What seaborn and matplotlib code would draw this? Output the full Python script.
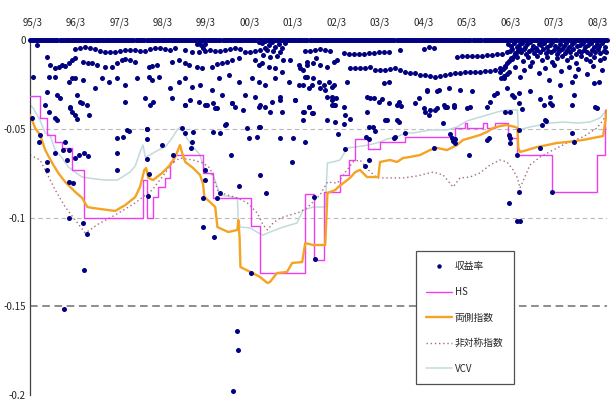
import numpy as np
import pandas as pd
import matplotlib
matplotlib.use("Agg")
import matplotlib.pyplot as plt
from matplotlib.lines import Line2D
import seaborn as sns

# x = decimal year, y = daily return / VaR estimate
tick_dates = [1995.17, 1996.17, 1997.17, 1998.17, 1999.17, 2000.17, 2001.17,
              2002.17, 2003.17, 2004.17, 2005.17, 2006.17, 2007.17, 2008.17]
tick_labels = ["95/3", "96/3", "97/3", "98/3", "99/3", "00/3", "01/3",
               "02/3", "03/3", "04/3", "05/3", "06/3", "07/3", "08/3"]
y_ticks = [0, -0.05, -0.1, -0.15, -0.2]
y_tick_labels = ["0", "-0.05", "-0.1", "-0.15", "-0.2"]

# days plotted on the zero line
zero_dates = [
    1995.13, 1995.21, 1995.30, 1995.38, 1995.46, 1995.55, 1995.63, 1995.71, 1995.80, 1995.88, 1995.96,
    1996.05, 1996.13, 1996.21, 1996.30, 1996.38, 1996.46, 1996.55, 1996.63, 1996.71, 1996.80, 1996.88, 1996.96,
    1997.05, 1997.13, 1997.21, 1997.30, 1997.38, 1997.46, 1997.55, 1997.63, 1997.71, 1997.80, 1997.88, 1997.96,
    1998.05, 1998.13, 1998.21, 1998.30, 1998.38, 1998.46, 1998.55, 1998.63, 1998.71, 1998.80, 1998.88, 1998.96,
    1999.05, 1999.13, 1999.21, 1999.30, 1999.38, 1999.46, 1999.55, 1999.63, 1999.71, 1999.80, 1999.88, 1999.96,
    2000.05, 2000.13, 2000.21, 2000.30, 2000.38, 2000.46, 2000.55, 2000.63, 2000.71, 2000.80, 2000.88, 2000.96,
    2001.05, 2001.13, 2001.21, 2001.30, 2001.38, 2001.46, 2001.55, 2001.63, 2001.71, 2001.80, 2001.88, 2001.96,
    2002.05, 2002.13, 2002.21, 2002.30, 2002.38, 2002.46, 2002.55, 2002.63, 2002.71, 2002.80, 2002.88, 2002.96,
    2003.05, 2003.13, 2003.21, 2003.30, 2003.38, 2003.46, 2003.55, 2003.63, 2003.71, 2003.80, 2003.88, 2003.96,
    2004.05, 2004.13, 2004.21, 2004.30, 2004.38, 2004.46, 2004.55, 2004.63, 2004.71, 2004.80, 2004.88, 2004.96,
    2005.05, 2005.13, 2005.21, 2005.30, 2005.38, 2005.46, 2005.55, 2005.63, 2005.71, 2005.80, 2005.88, 2005.96,
    2006.05, 2006.13, 2006.21, 2006.30, 2006.38, 2006.46, 2006.55, 2006.63, 2006.71, 2006.80, 2006.88, 2006.96,
    2007.05, 2007.13, 2007.21, 2007.30, 2007.38, 2007.46, 2007.55, 2007.63, 2007.71, 2007.80, 2007.88, 2007.96,
    2008.05, 2008.13, 2008.21, 2008.30, 2008.38,
]
zero_dates_mid = [
    1995.17, 1995.25, 1995.34, 1995.42, 1995.50, 1995.59, 1995.67, 1995.75, 1995.84, 1995.92,
    1996.00, 1996.09, 1996.17, 1996.25, 1996.34, 1996.42, 1996.50, 1996.59, 1996.67, 1996.75, 1996.84, 1996.92,
    1997.00, 1997.09, 1997.17, 1997.25, 1997.34, 1997.42, 1997.50, 1997.59, 1997.67, 1997.75, 1997.84, 1997.92,
    1998.00, 1998.09, 1998.17, 1998.25, 1998.34, 1998.42, 1998.50, 1998.59, 1998.67, 1998.75, 1998.84, 1998.92,
    1999.00, 1999.09, 1999.17, 1999.25, 1999.34, 1999.42, 1999.50, 1999.59, 1999.67, 1999.75, 1999.84, 1999.92,
    2000.00, 2000.09, 2000.17, 2000.25, 2000.34, 2000.42, 2000.50, 2000.59, 2000.67, 2000.75, 2000.84, 2000.92,
    2001.00, 2001.09, 2001.17, 2001.25, 2001.34, 2001.42, 2001.50, 2001.59, 2001.67, 2001.75, 2001.84, 2001.92,
    2002.00, 2002.09, 2002.17, 2002.25, 2002.34, 2002.42, 2002.50, 2002.59, 2002.67, 2002.75, 2002.84, 2002.92,
    2003.00, 2003.09, 2003.17, 2003.25, 2003.34, 2003.42, 2003.50, 2003.59, 2003.67, 2003.75, 2003.84, 2003.92,
    2004.00, 2004.09, 2004.17, 2004.25, 2004.34, 2004.42, 2004.50, 2004.59, 2004.67, 2004.75, 2004.84, 2004.92,
    2005.00, 2005.09, 2005.17, 2005.25, 2005.34, 2005.42, 2005.50, 2005.59, 2005.67, 2005.75, 2005.84, 2005.92,
    2006.00, 2006.09, 2006.17, 2006.25, 2006.34, 2006.42, 2006.50, 2006.59, 2006.67, 2006.75, 2006.84, 2006.92,
    2007.00, 2007.09, 2007.17, 2007.25, 2007.34, 2007.42, 2007.50, 2007.59, 2007.67, 2007.75, 2007.84, 2007.92,
    2008.00, 2008.09, 2008.17, 2008.25, 2008.34,
]

upper_band = [
    (1996.16, -0.0051), (1996.28, -0.0043), (1996.39, -0.0041), (1996.51, -0.0047), (1996.62, -0.0053),
    (1996.74, -0.0060), (1996.85, -0.0066), (1996.97, -0.0070), (1997.08, -0.0066), (1997.20, -0.0060),
    (1997.31, -0.0056), (1997.43, -0.0055), (1997.54, -0.0058), (1997.66, -0.0062), (1997.77, -0.0064),
    (1997.89, -0.0051), (1998.00, -0.0047), (1998.12, -0.0045), (1998.23, -0.0049), (1998.35, -0.0055),
    (1998.46, -0.0047), (1998.69, -0.0056), (1998.85, -0.0066), (1999.00, -0.0070), (1999.15, -0.0062),
    (1999.27, -0.0056), (1999.38, -0.0060), (1999.50, -0.0060), (1999.61, -0.0056), (1999.73, -0.0053),
    (1999.84, -0.0047), (1999.96, -0.0051), (2000.07, -0.0066), (2000.19, -0.0070), (2000.30, -0.0062),
    (2000.42, -0.0056), (2000.53, -0.0047),
    (2001.45, -0.0062), (2001.57, -0.0060), (2001.68, -0.0056), (2001.80, -0.0053), (2001.91, -0.0056),
    (2002.03, -0.0062), (2002.33, -0.0075), (2002.45, -0.0077), (2002.56, -0.0079), (2002.68, -0.0079),
    (2002.79, -0.0077), (2002.91, -0.0075), (2003.02, -0.0072), (2003.14, -0.0070), (2003.25, -0.0068),
    (2003.37, -0.0066), (2003.63, -0.0056), (2004.17, -0.0051), (2004.29, -0.0038), (2004.40, -0.0047),
    (2004.94, -0.0094), (2005.05, -0.0092), (2005.17, -0.0092), (2005.28, -0.0090), (2005.40, -0.0092),
    (2005.51, -0.0088), (2005.63, -0.0085), (2005.74, -0.0083), (2005.86, -0.0081), (2005.97, -0.0077),
    (2006.09, -0.0068),
]

mid_band = [
    (1995.28, -0.0030), (1995.50, -0.0094),
    (1995.59, -0.0141), (1995.70, -0.0160), (1995.78, -0.0150), (1995.85, -0.0141), (1995.93, -0.0145),
    (1996.01, -0.0132), (1996.08, -0.0113), (1996.16, -0.0100), (1996.35, -0.0122), (1996.45, -0.0128),
    (1996.54, -0.0132), (1996.66, -0.0141), (1996.85, -0.0150), (1997.00, -0.0150), (1997.12, -0.0132),
    (1997.23, -0.0113), (1997.31, -0.0107), (1997.43, -0.0113), (1997.54, -0.0122), (1997.85, -0.0150),
    (1997.92, -0.0147), (1998.04, -0.0141), (1998.38, -0.0122), (1998.54, -0.0113), (1998.69, -0.0132),
    (1998.77, -0.0141), (1998.96, -0.0150), (1999.08, -0.0160), (1999.31, -0.0150), (1999.42, -0.0137),
    (1999.54, -0.0132), (1999.65, -0.0122), (1999.77, -0.0113), (1999.92, -0.0103),
    (2001.10, -0.0113), (2001.30, -0.0141), (2001.50, -0.0122), (2001.70, -0.0103),
]

lower_band = [
    (2001.33, -0.0160), (2001.49, -0.0141), (2001.64, -0.0132), (2001.79, -0.0141), (2001.95, -0.0150),
    (2002.10, -0.0122), (2002.18, -0.0113),
    (2002.48, -0.0160), (2002.60, -0.0160), (2002.71, -0.0160), (2002.83, -0.0156), (2002.94, -0.0150),
    (2003.06, -0.0169), (2003.17, -0.0169), (2003.29, -0.0167), (2003.40, -0.0164), (2003.52, -0.0160),
    (2003.63, -0.0169), (2003.75, -0.0178), (2003.87, -0.0188), (2003.98, -0.0188), (2004.10, -0.0195),
    (2004.21, -0.0197), (2004.33, -0.0201), (2004.44, -0.0207), (2004.56, -0.0201), (2004.67, -0.0197),
    (2004.79, -0.0193), (2004.90, -0.0188), (2005.02, -0.0186), (2005.13, -0.0182), (2005.25, -0.0182),
    (2005.36, -0.0178), (2005.48, -0.0178), (2005.59, -0.0176), (2005.71, -0.0173), (2005.82, -0.0169),
    (2005.94, -0.0160), (2006.05, -0.0150),
]

near_zero_clusters = [
    (1998.95, -0.0025), (1999.00, -0.0015), (1999.05, -0.0030), (1999.10, -0.0045), (1999.15, -0.0020),
    (2000.38, -0.0010), (2000.46, -0.0019), (2000.53, -0.0006), (2000.61, -0.0028), (2000.69, -0.0013),
    (2000.76, -0.0038), (2000.84, -0.0024), (2000.92, -0.0047), (2000.99, -0.0019), (2000.57, -0.0056),
    (2000.72, -0.0062), (2000.88, -0.0066), (2000.49, -0.0085), (2000.65, -0.0094), (2000.80, -0.0090),
    (2000.30, -0.0113), (2000.38, -0.0141), (2000.46, -0.0132), (2000.61, -0.0150), (2000.76, -0.0160),
    (2000.92, -0.0179), (2000.95, -0.0113),
]

scatter_early = [
    (1995.20, -0.0207), (1995.51, -0.0291), (1995.55, -0.0207), (1995.70, -0.0207), (1996.01, -0.0235),
    (1996.08, -0.0216), (1996.16, -0.0216), (1996.35, -0.0226), (1996.62, -0.0273), (1996.77, -0.0216),
    (1996.93, -0.0235), (1997.12, -0.0216), (1997.31, -0.0254), (1997.58, -0.0216), (1997.85, -0.0207),
    (1997.92, -0.0226), (1998.08, -0.0207), (1998.35, -0.0273), (1998.54, -0.0235), (1998.69, -0.0216),
    (1998.85, -0.0263), (1999.04, -0.0254), (1999.31, -0.0282), (1999.46, -0.0216), (1999.69, -0.0197),
    (1999.92, -0.0235), (2000.23, -0.0216), (2000.38, -0.0235), (2000.53, -0.0254), (2000.76, -0.0216),
    (2001.07, -0.0235), (2001.30, -0.0254), (2001.45, -0.0207), (2001.61, -0.0254), (2001.76, -0.0235),
    (1995.47, -0.0367), (1995.55, -0.0404), (1995.70, -0.0442), (1995.74, -0.0310), (1995.81, -0.0329),
    (1996.05, -0.0376), (1996.08, -0.0404), (1996.16, -0.0423), (1996.20, -0.0310), (1996.28, -0.0348),
    (1996.43, -0.0367), (1996.47, -0.0423), (1997.31, -0.0348), (1997.77, -0.0329), (1997.89, -0.0367),
    (1997.96, -0.0348), (1998.38, -0.0329), (1998.69, -0.0367), (1998.81, -0.0338), (1999.00, -0.0348),
    (1999.19, -0.0367), (1999.34, -0.0357), (1999.42, -0.0385), (1999.54, -0.0310), (1999.77, -0.0357),
    (1999.84, -0.0376), (2000.07, -0.0310), (2000.30, -0.0320), (2000.38, -0.0376), (2000.53, -0.0376),
    (2000.69, -0.0348), (2000.88, -0.0320), (2000.92, -0.0404), (2001.22, -0.0338), (2001.41, -0.0404),
    (2001.53, -0.0376), (2001.61, -0.0414), (1996.04, -0.0385), (1996.20, -0.0447), (1995.74, -0.0450),
    (1996.31, -0.0353), (1997.35, -0.0508), (1997.81, -0.0504), (1999.61, -0.0480), (2000.38, -0.0489),
]

scatter_1995_1998 = [
    (1995.16, -0.0440), (1995.32, -0.0573), (1995.35, -0.0535), (1995.51, -0.0686), (1995.51, -0.0733),
    (1995.93, -0.0573), (1995.89, -0.0620), (1996.01, -0.0620), (1996.01, -0.0798), (1996.12, -0.0808),
    (1995.97, -0.0676), (1996.16, -0.0667), (1996.24, -0.0648), (1996.37, -0.0639), (1996.45, -0.0654),
    (1995.70, -0.0639), (1996.01, -0.1005), (1996.35, -0.1030), (1996.43, -0.1093), (1996.37, -0.1296),
    (1995.91, -0.1515), (1997.12, -0.0554), (1997.26, -0.0545), (1997.39, -0.0511), (1997.12, -0.0635),
    (1997.12, -0.0730), (1997.81, -0.0503), (1997.81, -0.0560), (1997.81, -0.0670), (1997.83, -0.0880),
    (1997.85, -0.0755), (1998.15, -0.0592), (1998.42, -0.0648),
]

scatter_1998_2002 = [
    (1998.69, -0.0366), (1999.15, -0.0366), (1999.38, -0.0385), (1999.76, -0.0357), (2000.03, -0.0394),
    (2000.40, -0.0366), (2000.65, -0.0404), (2000.87, -0.0338), (2001.22, -0.0338), (2001.43, -0.0404),
    (2001.53, -0.0375), (2001.64, -0.0413), (2001.41, -0.0450), (1998.61, -0.0498), (1998.69, -0.0526),
    (1998.88, -0.0516), (1998.84, -0.0573), (1998.82, -0.0610), (1999.34, -0.0516), (1999.49, -0.0526),
    (1999.63, -0.0475), (2000.11, -0.0498), (2000.15, -0.0554), (2000.40, -0.0488), (2000.35, -0.0545),
    (2000.87, -0.0554), (2001.18, -0.0554), (2001.45, -0.0573), (1999.74, -0.0648), (2001.14, -0.0685),
    (2000.42, -0.0761), (2000.55, -0.0860), (1999.15, -0.0732), (1999.15, -0.0789), (1999.42, -0.0892),
    (1999.49, -0.0864), (1999.92, -0.0822), (1999.11, -0.0892), (1999.10, -0.1052), (1999.36, -0.1108),
    (2000.21, -0.1315), (2001.66, -0.0883), (2001.68, -0.1236),
    (1999.89, -0.1640), (1999.91, -0.1747), (1999.80, -0.1980),
]

scatter_2002_2005 = [
    (2001.91, -0.0282), (2002.07, -0.0320), (2002.15, -0.0329), (2002.06, -0.0366), (2002.14, -0.0366),
    (2002.33, -0.0376), (2002.37, -0.0423), (2001.95, -0.0451), (2002.14, -0.0460), (2002.33, -0.0473),
    (2002.48, -0.0447), (2002.87, -0.0320), (2002.94, -0.0324), (2003.02, -0.0324), (2003.14, -0.0348),
    (2003.21, -0.0335), (2003.37, -0.0353), (2003.56, -0.0366), (2003.65, -0.0372), (2003.60, -0.0348),
    (2003.98, -0.0357), (2004.06, -0.0329), (2004.17, -0.0385), (2004.21, -0.0404), (2004.29, -0.0423),
    (2004.44, -0.0395), (2004.48, -0.0385), (2004.63, -0.0366), (2004.86, -0.0376), (2004.25, -0.0282),
    (2004.52, -0.0282), (2003.33, -0.0451), (2003.56, -0.0451), (2003.60, -0.0460), (2002.87, -0.0404),
    (2003.75, -0.0522), (2003.50, -0.0550), (2002.91, -0.0488), (2003.00, -0.0488), (2003.06, -0.0511),
    (2002.85, -0.0545), (2002.91, -0.0560), (2004.90, -0.0560), (2004.79, -0.0530), (2004.62, -0.0470),
    (2002.20, -0.0532), (2002.37, -0.0616), (2002.91, -0.0676), (2002.83, -0.0710), (2004.42, -0.0610),
    (2001.41, -0.0169), (2001.49, -0.0207), (2001.64, -0.0216), (2001.41, -0.0254), (2001.53, -0.0273),
    (2001.79, -0.0273), (2001.87, -0.0254), (2001.99, -0.0235), (2002.06, -0.0263), (2002.10, -0.0254),
    (2002.41, -0.0235), (2001.95, -0.0320), (2002.06, -0.0338), (2002.10, -0.0367), (2003.25, -0.0244),
    (2003.37, -0.0235), (2004.25, -0.0290), (2004.48, -0.0290), (2004.75, -0.0273), (2005.02, -0.0282),
    (2005.28, -0.0290), (2005.78, -0.0310), (2003.29, -0.0451), (2004.32, -0.0397), (2004.67, -0.0376),
    (2005.17, -0.0385), (2005.24, -0.0376), (2003.52, -0.0545), (2004.82, -0.0554), (2004.90, -0.0582),
    (2005.21, -0.0648), (2005.63, -0.0563), (2004.71, -0.0376), (2005.63, -0.0376), (2004.86, -0.0366),
    (2005.70, -0.0348), (2005.86, -0.0300), (2004.84, -0.0570), (2005.67, -0.0554),
]

scatter_2006_2008 = [
    (2006.01, -0.0216), (2006.09, -0.0273), (2006.24, -0.0320), (2006.36, -0.0300), (2006.63, -0.0290),
    (2006.86, -0.0330), (2007.09, -0.0320), (2007.32, -0.0254), (2007.59, -0.0235), (2007.62, -0.0310),
    (2008.08, -0.0244), (2008.12, -0.0376), (2006.05, -0.0404), (2006.17, -0.0404), (2006.36, -0.0357),
    (2006.93, -0.0367), (2007.12, -0.0367), (2007.59, -0.0367), (2006.97, -0.0451), (2006.14, -0.0535),
    (2006.17, -0.0552), (2006.32, -0.0648), (2006.36, -0.0507), (2006.36, -0.0855), (2006.13, -0.0920),
    (2006.33, -0.1018), (2006.38, -0.1022), (2007.12, -0.0858), (2007.58, -0.0526), (2008.16, -0.0385),
    (2006.20, -0.0310), (2006.43, -0.0390), (2007.08, -0.0357), (2006.98, -0.0455), (2006.89, -0.0479),
    (2006.17, -0.0582), (2006.84, -0.0610), (2007.62, -0.0573),
]

recent_cloud = [
    (2006.12, -0.0022), (2006.18, -0.0035), (2006.25, -0.0015), (2006.31, -0.0041), (2006.37, -0.0028),
    (2006.44, -0.0018), (2006.50, -0.0038), (2006.56, -0.0025), (2006.63, -0.0012), (2006.69, -0.0033),
    (2006.75, -0.0044), (2006.82, -0.0020), (2006.88, -0.0030), (2006.94, -0.0016), (2007.01, -0.0039),
    (2007.07, -0.0026), (2007.13, -0.0013), (2007.20, -0.0034), (2007.26, -0.0045), (2007.32, -0.0021),
    (2007.39, -0.0031), (2007.45, -0.0017), (2007.51, -0.0040), (2007.58, -0.0024), (2007.64, -0.0014),
    (2007.70, -0.0036), (2007.77, -0.0027), (2007.83, -0.0019), (2007.89, -0.0042), (2007.96, -0.0029),
    (2008.02, -0.0015), (2008.08, -0.0037), (2008.15, -0.0023), (2008.21, -0.0032), (2008.27, -0.0018),
    (2008.34, -0.0040),
    (2006.15, -0.0062), (2006.21, -0.0051), (2006.28, -0.0074), (2006.34, -0.0058), (2006.41, -0.0068),
    (2006.47, -0.0053), (2006.53, -0.0079), (2006.60, -0.0061), (2006.66, -0.0050), (2006.72, -0.0071),
    (2006.79, -0.0057), (2006.85, -0.0066), (2006.91, -0.0052), (2006.98, -0.0076), (2007.04, -0.0060),
    (2007.10, -0.0069), (2007.17, -0.0054), (2007.23, -0.0080), (2007.29, -0.0063), (2007.36, -0.0051),
    (2007.42, -0.0072), (2007.48, -0.0058), (2007.55, -0.0067), (2007.61, -0.0053), (2007.67, -0.0077),
    (2007.74, -0.0061), (2007.80, -0.0070), (2007.86, -0.0055), (2007.93, -0.0065), (2007.99, -0.0078),
    (2008.05, -0.0056), (2008.12, -0.0068), (2008.18, -0.0052), (2008.24, -0.0074), (2008.31, -0.0060),
    (2008.37, -0.0066),
    (2006.20, -0.0105), (2006.33, -0.0094), (2006.45, -0.0118), (2006.58, -0.0098), (2006.67, -0.0126),
    (2006.78, -0.0090), (2006.90, -0.0110), (2007.02, -0.0095), (2007.12, -0.0122), (2007.25, -0.0100),
    (2007.36, -0.0088), (2007.46, -0.0113), (2007.57, -0.0097), (2007.68, -0.0128), (2007.79, -0.0092),
    (2007.90, -0.0107), (2008.00, -0.0118), (2008.10, -0.0093), (2008.22, -0.0112), (2008.33, -0.0099),
    (2006.27, -0.0150), (2006.48, -0.0170), (2006.62, -0.0145), (2006.83, -0.0185), (2006.97, -0.0158),
    (2007.18, -0.0142), (2007.33, -0.0176), (2007.52, -0.0150), (2007.72, -0.0165), (2007.92, -0.0190),
    (2008.06, -0.0148), (2008.28, -0.0170), (2006.40, -0.0210), (2007.05, -0.0225), (2007.65, -0.0205),
    (2008.20, -0.0235),
    (2005.94, -0.0178), (2005.99, -0.0163), (2006.04, -0.0147), (2006.09, -0.0132), (2006.14, -0.0116),
    (2006.19, -0.0100), (2006.24, -0.0088), (2006.29, -0.0075), (2006.34, -0.0062), (2006.40, -0.0050),
    (2005.96, -0.0216), (2006.02, -0.0200), (2006.08, -0.0190), (2006.13, -0.0180),
]

# VaR series
hs_dates = [1995.12, 1995.35, 1995.51, 1995.70, 1995.86, 1996.09, 1996.37, 1997.72, 1997.80, 1997.95,
            1998.07, 1998.23, 1998.34, 1998.41, 1999.10, 1999.33, 2000.21, 2000.41, 2001.44, 2001.65,
            2001.88, 2002.25, 2002.46, 2002.60, 2002.90, 2003.17, 2003.74, 2004.89, 2005.12, 2005.17,
            2005.54, 2005.63, 2005.81, 2006.11, 2006.32, 2007.12, 2008.16, 2008.34, 2008.39]
hs_var = [-0.0315, -0.044, -0.0535, -0.0575, -0.061, -0.073, -0.100, -0.079, -0.100, -0.0885,
          -0.083, -0.078, -0.0685, -0.0648, -0.075, -0.089, -0.105, -0.131, -0.0868, -0.124,
          -0.0855, -0.076, -0.0676, -0.0557, -0.0614, -0.0574, -0.0546, -0.0496, -0.0467, -0.0496,
          -0.0467, -0.0496, -0.0467, -0.0552, -0.0648, -0.0856, -0.0648, -0.0394, -0.0394]

two_dates = [1995.12, 1995.24, 1995.35, 1995.47, 1995.63, 1995.77, 1995.93, 1996.16, 1996.32, 1996.44,
             1996.55, 1996.73, 1997.08, 1997.31, 1997.54, 1997.65, 1997.75, 1997.79, 1997.84, 1997.95,
             1998.16, 1998.34, 1998.46, 1998.57, 1998.62, 1998.69, 1998.87, 1999.03, 1999.10, 1999.13,
             1999.26, 1999.38, 1999.43, 1999.68, 1999.89, 1999.91, 1999.94, 1999.96, 2000.19, 2000.41,
             2000.58, 2000.64, 2000.80, 2001.03, 2001.15, 2001.38, 2001.45, 2001.63, 2001.91, 2001.96,
             2002.14, 2002.21, 2002.48, 2002.60, 2002.71, 2002.87, 2003.13, 2003.17, 2003.40, 2003.56,
             2003.70, 2003.86, 2004.09, 2004.32, 2004.48, 2004.71, 2004.94, 2005.08, 2005.24, 2005.47,
             2005.63, 2005.77, 2005.93, 2006.09, 2006.28, 2006.33, 2006.35, 2006.39, 2006.55, 2006.78,
             2007.01, 2007.24, 2007.47, 2007.84, 2008.07, 2008.30, 2008.39]
two_var = [-0.0423, -0.0496, -0.0535, -0.062, -0.0693, -0.0749, -0.080, -0.0856, -0.089, -0.0941,
           -0.0946, -0.0952, -0.0963, -0.093, -0.0885, -0.0828, -0.0732, -0.0721, -0.0777, -0.0789,
           -0.0749, -0.0704, -0.0659, -0.0592, -0.0637, -0.0687, -0.0721, -0.076, -0.0811, -0.0885,
           -0.0913, -0.0941, -0.1054, -0.1082, -0.107, -0.1014, -0.111, -0.1279, -0.1307, -0.1335,
           -0.1369, -0.1363, -0.1313, -0.1307, -0.1256, -0.1251, -0.1144, -0.1155, -0.1155, -0.0862,
           -0.0845, -0.0828, -0.0777, -0.0744, -0.0732, -0.0772, -0.0772, -0.0687, -0.0676, -0.0687,
           -0.0665, -0.0659, -0.0648, -0.062, -0.0608, -0.062, -0.0592, -0.0563, -0.0552, -0.0535,
           -0.0518, -0.0496, -0.0485, -0.0479, -0.049, -0.0496, -0.0608, -0.0631, -0.062, -0.0603,
           -0.0592, -0.058, -0.0575, -0.0563, -0.0552, -0.0541, -0.0394]

asym_dates = [1995.12, 1995.35, 1995.47, 1995.70, 1995.93, 1996.16, 1996.39, 1996.50, 1996.69, 1997.08,
              1997.54, 1997.93, 1998.16, 1998.39, 1998.57, 1998.87, 1999.10, 1999.26, 1999.45, 1999.66,
              1999.89, 2000.12, 2000.35, 2000.48, 2000.58, 2000.71, 2000.87, 2001.10, 2001.33, 2001.49,
              2001.79, 2001.96, 2002.19, 2002.55, 2002.71, 2002.90, 2003.10, 2003.40, 2003.70, 2004.02,
              2004.39, 2004.62, 2004.85, 2005.01, 2005.24, 2005.47, 2005.70, 2005.93, 2006.09, 2006.23,
              2006.33, 2006.39, 2006.62, 2006.85, 2007.15, 2007.47, 2007.84, 2008.16, 2008.30, 2008.39]
asym_var = [-0.0648, -0.0676, -0.0732, -0.0845, -0.0941, -0.1014, -0.1087, -0.107, -0.1037, -0.0986,
            -0.0918, -0.0845, -0.0772, -0.0693, -0.0665, -0.0676, -0.0693, -0.0721, -0.0856, -0.0873,
            -0.089, -0.0918, -0.0975, -0.1042, -0.107, -0.1031, -0.1003, -0.0986, -0.0969, -0.0946,
            -0.0873, -0.080, -0.0806, -0.0687, -0.0676, -0.0732, -0.0777, -0.0777, -0.0777, -0.0766,
            -0.0744, -0.076, -0.0828, -0.0777, -0.0772, -0.0749, -0.0704, -0.0676, -0.0687, -0.0732,
            -0.0777, -0.0834, -0.0704, -0.0659, -0.062, -0.058, -0.0546, -0.0496, -0.0451, -0.0411]

vcv_dates = [1995.12, 1995.19, 1995.35, 1995.47, 1995.58, 1995.70, 1995.86, 1996.00, 1996.16, 1996.32,
             1996.62, 1996.85, 1997.13, 1997.24, 1997.42, 1997.54, 1997.65, 1997.72, 1997.77, 1997.88,
             1998.07, 1998.23, 1998.39, 1998.50, 1998.57, 1998.64, 1998.80, 1999.03, 1999.10, 1999.20,
             1999.33, 1999.43, 1999.49, 1999.89, 1999.91, 1999.96, 2000.19, 2000.37, 2000.48, 2000.64,
             2000.94, 2001.26, 2001.40, 2001.63, 2001.91, 2001.96, 2002.09, 2002.25, 2002.42, 2002.60,
             2002.90, 2003.17, 2003.33, 2003.56, 2003.75, 2003.93, 2004.32, 2004.71, 2004.94, 2005.17,
             2005.40, 2005.63, 2005.86, 2006.09, 2006.33, 2006.35, 2006.62, 2007.08, 2007.38, 2007.71,
             2008.00, 2008.23, 2008.39]
vcv_var = [-0.0366, -0.0383, -0.0451, -0.0524, -0.0535, -0.062, -0.0665, -0.0715, -0.0744, -0.0772,
           -0.0783, -0.0789, -0.0789, -0.0772, -0.0744, -0.071, -0.0631, -0.0592, -0.0659, -0.0648,
           -0.062, -0.0603, -0.0552, -0.0507, -0.049, -0.0518, -0.058, -0.0648, -0.0704, -0.0749,
           -0.076, -0.0828, -0.0873, -0.089, -0.1014, -0.1054, -0.1059, -0.1087, -0.1099, -0.1082,
           -0.1054, -0.1031, -0.0958, -0.0941, -0.0941, -0.0693, -0.0687, -0.0676, -0.0608, -0.0603,
           -0.0592, -0.0575, -0.0558, -0.0546, -0.0524, -0.0524, -0.0507, -0.0507, -0.049, -0.0456,
           -0.0439, -0.0423, -0.0406, -0.0394, -0.0394, -0.0507, -0.049, -0.0468, -0.0462, -0.0468,
           -0.0462, -0.0439, -0.0394]

legend_labels = ["収益率", "HS", "両側指数", "非対称指数", "VCV"]

# build the return table
loss_points = (upper_band + mid_band + lower_band + near_zero_clusters + scatter_early
               + scatter_1995_1998 + scatter_1998_2002 + scatter_2002_2005
               + scatter_2006_2008 + recent_cloud)
ret_df = pd.concat([
    pd.DataFrame({"date": zero_dates + zero_dates_mid, "ret": 0.0}),
    pd.DataFrame(loss_points, columns=["date", "ret"]),
], ignore_index=True)

sns.set_style("white")
plt.rcParams["font.family"] = ["Noto Sans CJK JP", "DejaVu Sans"]
plt.rcParams["axes.unicode_minus"] = False

fig = plt.figure(figsize=(6.1, 4.0), dpi=100)
ax = fig.add_axes([30 / 610, 5 / 400, 577 / 610, 355 / 400])

# dashed reference lines
for lvl in [-0.05, -0.1]:
    ax.axhline(lvl, color="#b8b8b8", lw=0.8, dashes=(4, 3), zorder=1)
ax.axhline(-0.15, color="#6e6e6e", lw=1.1, dashes=(5, 3), zorder=1)

c_dot = "#000080"
c_hs = "#f03cf0"
c_two = "#f5a323"
c_asym = "#a06e78"
c_vcv = "#c3dadb"

sns.lineplot(x=vcv_dates, y=vcv_var, color=c_vcv, lw=1.1, sort=False, estimator=None, ax=ax, zorder=2)
sns.lineplot(x=asym_dates, y=asym_var, color=c_asym, lw=1.0, linestyle=(0, (1, 2)),
             sort=False, estimator=None, ax=ax, zorder=2)
sns.lineplot(x=hs_dates, y=hs_var, color=c_hs, lw=1.0, drawstyle="steps-post",
             sort=False, estimator=None, ax=ax, zorder=3)
sns.lineplot(x=two_dates, y=two_var, color=c_two, lw=1.7, sort=False, estimator=None, ax=ax, zorder=3)

sns.scatterplot(data=ret_df, x="date", y="ret", color=c_dot, s=13, linewidth=0,
                legend=False, ax=ax, zorder=5, clip_on=False)

ax.set_xlim(1995.12, 2008.39)
ax.set_ylim(-0.2, 0)
ax.set_xlabel("")
ax.set_ylabel("")

ax.xaxis.tick_top()
ax.set_xticks(tick_dates)
ax.set_xticklabels(tick_labels, fontsize=7)
ax.set_yticks(y_ticks)
ax.set_yticklabels(y_tick_labels, fontsize=7)
ax.tick_params(axis="x", length=0, pad=9)
ax.tick_params(axis="y", length=0, pad=3)

for side in ["right", "bottom"]:
    ax.spines[side].set_visible(False)
ax.spines["left"].set_color("#404040")
ax.spines["left"].set_linewidth(0.9)
ax.spines["top"].set_color("#202020")

handles = [
    Line2D([], [], ls="none", marker="o", ms=3.2, mfc=c_dot, mec="none"),
    Line2D([], [], color=c_hs, lw=1.0),
    Line2D([], [], color=c_two, lw=1.7),
    Line2D([], [], color=c_asym, lw=1.0, ls=(0, (1, 2))),
    Line2D([], [], color=c_vcv, lw=1.1),
]
leg = ax.legend(handles, legend_labels, loc="upper left", bbox_to_anchor=(0.66, 0.42),
                frameon=True, fancybox=False, edgecolor="#505050", framealpha=1,
                fontsize=7, handlelength=2.6, handletextpad=0.3, labelspacing=1.6,
                borderpad=1.1)
leg.get_frame().set_linewidth(0.9)
leg.set_zorder(10)

fig.savefig("out.png", dpi=100)
